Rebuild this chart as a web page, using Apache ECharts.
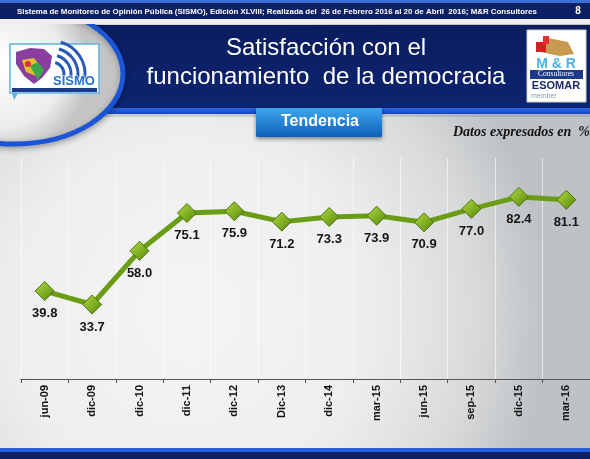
<!DOCTYPE html>
<html lang="es">
<head>
    <meta charset="UTF-8">
    <title>Satisfacción con el funcionamiento de la democracia</title>
    <style>
        *{
            margin: 0;
            padding: 0;
        }
        body{
            background: #ffffff;
        }
    </style>
</head>
<body>
<div id="main" style="width: 590px;height: 459px;"></div>
<script src="https://cdn.jsdelivr.net/npm/echarts@6/dist/echarts.min.js"></script>
<script type="text/javascript">
    // datos de la serie (en %)
    var categories = ['jun-09','dic-09','dic-10','dic-11','dic-12','Dic-13','dic-14','mar-15','jun-15','sep-15','dic-15','mar-16'];
    var satisfaccion = [39.8, 33.7, 58.0, 75.1, 75.9, 71.2, 73.3, 73.9, 70.9, 77.0, 82.4, 81.1];

    var myChart = echarts.init(document.getElementById('main'));
    var G = echarts.graphic;
    var sans = 'Liberation Sans, Arial, sans-serif';

    var elements = [
        // fondo gris
        {
            type: 'rect', z: -10, silent: true,
            shape: {x: 0, y: 0, width: 590, height: 459},
            style: {fill: new G.RadialGradient(0.32, 0.68, 0.78, [
                {offset: 0, color: '#f5f5f5'},
                {offset: 0.5, color: '#eeeeee'},
                {offset: 0.8, color: '#d9dadb'},
                {offset: 1, color: '#bec2c5'}
            ])}
        },
        // banner azul
        {
            type: 'rect', shape: {x: 0, y: 25, width: 590, height: 83},
            style: {fill: new G.LinearGradient(0, 0, 0, 1, [
                {offset: 0, color: '#0a1d5e'},
                {offset: 1, color: '#0d2470'}
            ])}
        },
        {
            type: 'rect', shape: {x: 0, y: 108, width: 590, height: 6},
            style: {fill: new G.LinearGradient(0, 0, 0, 1, [
                {offset: 0, color: '#2b66e0'},
                {offset: 1, color: '#1446c4'}
            ])}
        },
        {type: 'rect', shape: {x: 0, y: 114, width: 590, height: 3}, style: {fill: 'rgba(120,120,120,0.25)'}},
        // circulo del logo
        {
            type: 'ellipse', shape: {cx: 14, cy: 74, rx: 109, ry: 70},
            style: {
                fill: new G.RadialGradient(0.45, 0.45, 0.6, [
                    {offset: 0, color: '#ffffff'},
                    {offset: 0.7, color: '#ececec'},
                    {offset: 1, color: '#c4c4c4'}
                ]),
                stroke: '#1a55d8', lineWidth: 5,
                shadowBlur: 6, shadowColor: 'rgba(0,0,0,0.3)', shadowOffsetY: 2
            }
        },
        // franja superior
        {type: 'rect', shape: {x: 0, y: 0, width: 590, height: 3}, style: {fill: '#3c6fd6'}},
        {type: 'rect', shape: {x: 0, y: 3, width: 590, height: 16}, style: {fill: '#0c2163'}},
        {
            type: 'text', x: 17, y: 11.5,
            style: {
                text: 'Sistema de Monitoreo de Opinión Pública (SISMO), Edición XLVIII; Realizada del  26 de Febrero 2016 al 20 de Abril  2016; M&R Consultores',
                fill: '#ffffff', font: 'bold 7.9px ' + sans, verticalAlign: 'middle'
            }
        },
        {type: 'text', x: 578, y: 11.5, style: {text: '8', fill: '#ffffff', font: 'bold 10px ' + sans, verticalAlign: 'middle', align: 'center'}},
        {type: 'rect', shape: {x: 0, y: 19, width: 590, height: 5}, style: {fill: '#eeeeee'}},
        // logo SISMO
        {type: 'rect', shape: {x: 10, y: 44, width: 89, height: 49}, style: {fill: '#ffffff', stroke: '#5ab4dc', lineWidth: 1.5}},
        {type: 'polygon', shape: {points: [[16,52],[30,48],[44,49],[52,56],[50,68],[42,78],[34,84],[24,76],[16,64]]}, style: {fill: '#8a3fa0'}},
        {type: 'polygon', shape: {points: [[22,60],[34,58],[40,66],[36,76],[26,72]]}, style: {fill: '#e2c230'}},
        {type: 'polygon', shape: {points: [[30,66],[38,62],[44,70],[38,80]]}, style: {fill: '#3aa84a'}},
        {type: 'circle', shape: {cx: 28, cy: 64, r: 3}, style: {fill: '#e03030'}},
        {type: 'arc', shape: {cx: 52, cy: 74, r: 12, startAngle: -1.3, endAngle: 0.2}, style: {stroke: '#2a5ab8', lineWidth: 3, fill: null}},
        {type: 'arc', shape: {cx: 52, cy: 74, r: 19, startAngle: -1.3, endAngle: 0.2}, style: {stroke: '#2a5ab8', lineWidth: 3, fill: null}},
        {type: 'arc', shape: {cx: 52, cy: 74, r: 26, startAngle: -1.3, endAngle: 0.2}, style: {stroke: '#2a5ab8', lineWidth: 3, fill: null}},
        {type: 'arc', shape: {cx: 52, cy: 74, r: 33, startAngle: -1.3, endAngle: 0.15}, style: {stroke: '#2a5ab8', lineWidth: 3, fill: null}},
        {type: 'text', x: 74, y: 81, style: {text: 'SISMO', fill: '#2a6fd0', font: 'bold 13px ' + sans, align: 'center', verticalAlign: 'middle', stroke: '#ffffff', lineWidth: 1}},
        {type: 'rect', shape: {x: 12, y: 88, width: 85, height: 4}, style: {fill: '#1d3a8a'}},
        {type: 'polygon', shape: {points: [[12,93],[18,93],[14,100]]}, style: {fill: '#5ab4dc'}},
        // titulo
        {type: 'text', x: 326, y: 48, style: {text: 'Satisfacción con el', fill: '#ffffff', font: '24px ' + sans, align: 'center', verticalAlign: 'middle'}},
        {type: 'text', x: 326, y: 77, style: {text: 'funcionamiento  de la democracia', fill: '#ffffff', font: '24px ' + sans, align: 'center', verticalAlign: 'middle'}},
        // logo M&R
        {type: 'rect', shape: {x: 527, y: 30, width: 59, height: 72}, style: {fill: '#ffffff', stroke: '#d0d0d0', lineWidth: 1}},
        {type: 'polygon', shape: {points: [[540,52],[548,38],[568,42],[574,54],[560,56]]}, style: {fill: '#c89a50'}},
        {type: 'rect', shape: {x: 536, y: 42, width: 10, height: 10}, style: {fill: '#d42020'}},
        {type: 'rect', shape: {x: 543, y: 36, width: 6, height: 8}, style: {fill: '#e23030'}},
        {type: 'text', x: 556, y: 64, style: {text: 'M & R', fill: '#4ab4e6', font: 'bold 14px ' + sans, align: 'center', verticalAlign: 'middle'}},
        {type: 'rect', shape: {x: 530, y: 70, width: 53, height: 9}, style: {fill: '#1d3a8a'}},
        {type: 'text', x: 556, y: 74.5, style: {text: 'Consultores', fill: '#ffffff', font: '7.5px Liberation Serif, serif', align: 'center', verticalAlign: 'middle'}},
        {type: 'text', x: 556, y: 86, style: {text: 'ESOMAR', fill: '#1a2a6a', font: 'bold 11px ' + sans, align: 'center', verticalAlign: 'middle'}},
        {type: 'text', x: 531, y: 96, style: {text: 'member', fill: '#8a9ab0', font: '7px ' + sans, verticalAlign: 'middle'}},
        // boton Tendencia
        {
            type: 'rect', shape: {x: 256, y: 108, width: 126, height: 29, r: 1},
            style: {
                fill: new G.LinearGradient(0, 0, 0, 1, [
                    {offset: 0, color: '#3ea6ee'},
                    {offset: 1, color: '#0e5fb6'}
                ]),
                shadowBlur: 4, shadowColor: 'rgba(0,0,0,0.45)', shadowOffsetY: 2
            }
        },
        {type: 'text', x: 320, y: 122, style: {text: 'Tendencia', fill: '#ffffff', font: 'bold 16px ' + sans, align: 'center', verticalAlign: 'middle'}},
        // nota
        {type: 'text', x: 453, y: 132, style: {text: 'Datos expresados en  %', fill: '#111111', font: 'italic bold 14px Liberation Serif, Times New Roman, serif', verticalAlign: 'middle'}},
        // franja inferior
        {type: 'rect', shape: {x: 0, y: 448, width: 590, height: 4}, style: {fill: '#2260dc'}},
        {type: 'rect', shape: {x: 0, y: 452, width: 590, height: 7}, style: {fill: '#0c2163'}}
    ];

    myChart.setOption({
        animation: false,
        graphic: {elements: elements},
        grid: {
            left: 21,
            top: 158,
            width: 572,
            bottom: 80
        },
        xAxis: {
            type: 'category',
            data: categories,
            boundaryGap: true,
            axisLine: {lineStyle: {color: '#555555', width: 1}},
            axisTick: {show: true, length: 4, lineStyle: {color: '#555555'}},
            axisLabel: {
                rotate: 90,
                margin: 6,
                color: '#111111',
                fontSize: 11,
                fontWeight: 'bold',
                fontFamily: sans,
                interval: 0
            },
            splitLine: {show: true, lineStyle: {color: 'rgba(255,255,255,0.6)', width: 1}}
        },
        yAxis: {
            type: 'value',
            min: 0,
            max: 100,
            show: false,
            splitLine: {show: false}
        },
        series: [{
            name: 'Satisfacción',
            type: 'line',
            data: satisfaccion,
            symbol: 'diamond',
            symbolSize: 19,
            lineStyle: {color: '#6a9c15', width: 5},
            itemStyle: {
                color: new G.LinearGradient(0, 0, 1, 1, [
                    {offset: 0, color: '#b2d848'},
                    {offset: 0.5, color: '#84b224'},
                    {offset: 1, color: '#52800c'}
                ]),
                borderColor: '#4a7410',
                borderWidth: 1
            },
            label: {
                show: true,
                position: 'bottom',
                distance: 6,
                color: '#151515',
                fontSize: 13,
                fontWeight: 'bold',
                fontFamily: sans,
                formatter: function(p){
                    return p.value.toFixed(1);
                }
            }
        }]
    });
</script>
</body>
</html>
